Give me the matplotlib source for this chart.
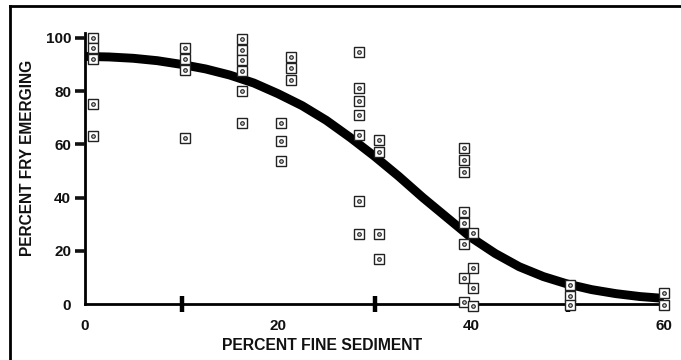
import numpy as np
import matplotlib.pyplot as plt
from matplotlib import rcParams
from matplotlib.lines import Line2D

params = {
    'font.family': ['Liberation Sans', 'DejaVu Sans'],
    'font.weight': 'bold',
    'font.size': 10,
}
rcParams.update(params)

# observed emergence, grouped by column of boxes
obs_x = [0.8] * 5 + [10.4] * 4 + [16.3] * 6 + [20.3] * 3 + [21.3] * 3 \
    + [28.4] * 7 + [30.5] * 4 + [39.3] * 8 + [40.2] * 4 + [50.3] * 3 + [60.0] * 2
obs_y = [100, 96, 92, 75, 63,
         96.3, 92.1, 88, 62.4,
         99.5, 95.6, 91.6, 87.6, 80.1, 67.9,
         68.1, 61.3, 53.7,
         92.9, 88.5, 84.1,
         94.5, 81.0, 76.2, 71.0, 63.4, 38.8, 26.3,
         61.6, 57.0, 26.3, 16.8,
         58.5, 54.1, 49.7, 34.5, 30.5, 22.4, 9.7, 0.7,
         26.6, 13.6, 6.1, -0.9,
         7.2, 3.0, -0.2,
         4.2, -0.2]

# fitted curve
fit_x = [0, 2.5, 5, 7.5, 10, 12.5, 15, 17.5, 20, 22.5, 25, 27.5, 30,
         32.5, 35, 37.5, 40, 42.5, 45, 47.5, 50, 52.5, 55, 57.5, 60]
fit_y = [93.0, 92.8, 92.3, 91.4, 90.0, 88.3, 86.0, 83.0, 79.0, 74.5, 69.0,
         62.5, 55.5, 48.0, 40.0, 32.5, 25.0, 19.0, 14.0, 10.3, 7.5, 5.4,
         3.9, 2.8, 2.1]

xticks = [0, 20, 40, 60]
xminor = [10, 20, 30, 40, 50]
yticks = [0, 20, 40, 60, 80, 100]

fig = plt.figure(figsize=(6.81, 3.6), dpi=100)
ax = fig.add_axes([85 / 681, 1 - 304 / 360, 579 / 681, 271 / 360])

ax.plot(fit_x, fit_y, c="black", lw=6.4, solid_capstyle="butt",
        solid_joinstyle="round", zorder=2, clip_on=False)
ax.plot(obs_x, obs_y, ls="none", marker="s", ms=7.4, mfc="white",
        mec="#222222", mew=1.0, zorder=3, clip_on=False)
ax.plot(obs_x, obs_y, ls="none", marker="o", ms=2.6, mfc="#cccccc",
        mec="#222222", mew=0.8, zorder=4, clip_on=False)

ax.set_xlim(0, 60)
ax.set_ylim(0, 101.8)
for s in ["top", "right"]:
    ax.spines[s].set_visible(False)
for s in ["left", "bottom"]:
    ax.spines[s].set_linewidth(2.0)
    ax.spines[s].set_zorder(1)

ax.set_xticks(xticks)
ax.set_xticks(xminor, minor=True)
ax.set_yticks(yticks)
ax.tick_params(axis="x", which="major", length=0, pad=11, labelsize=11,
               colors="#111111")
ax.tick_params(axis="x", which="minor", direction="inout", length=11,
               width=3.2, color="black")
ax.tick_params(axis="y", which="major", direction="out", length=7,
               width=2.6, pad=3, labelsize=11, colors="#111111")
ax.yaxis.get_major_ticks()[0].tick1line.set_visible(False)

fig.text(322 / 681, 1 - 345 / 360, "PERCENT FINE SEDIMENT", ha="center",
         va="center", fontsize=11.3, fontweight="bold", color="#111111")
fig.text(28 / 681, 1 - 158 / 360, "PERCENT FRY EMERGING", ha="center",
         va="center", rotation=90, fontsize=11.2, fontweight="bold",
         color="#111111")

# border of the scanned figure (left and top edges)
fig.add_artist(Line2D([9.5 / 681, 9.5 / 681], [0, 1 - 5.5 / 360],
                      transform=fig.transFigure, c="black", lw=2.0))
fig.add_artist(Line2D([9.5 / 681, 1], [1 - 5.5 / 360, 1 - 5.5 / 360],
                      transform=fig.transFigure, c="black", lw=2.0))

fig.savefig("out.png", dpi=100)
